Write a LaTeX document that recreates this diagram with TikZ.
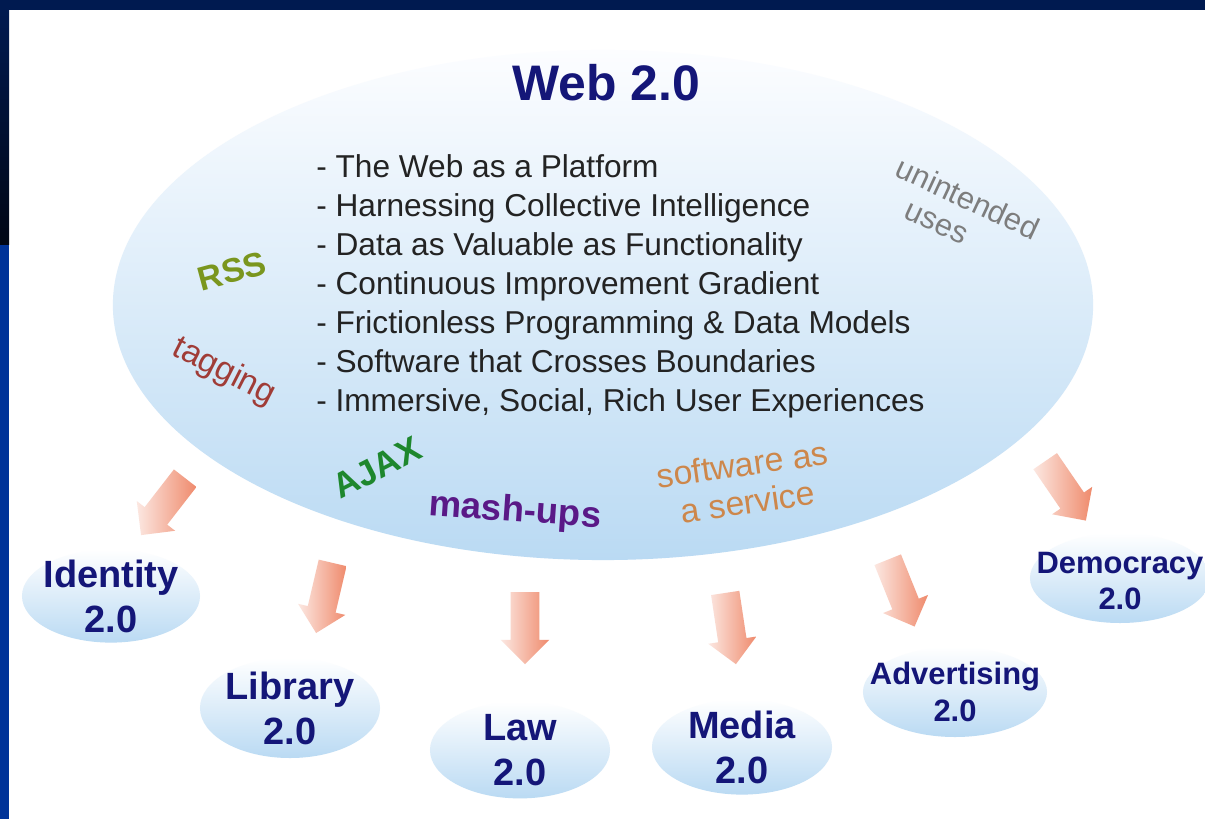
\documentclass[tikz,border=0pt]{standalone}
\usepackage{fontspec}
\setmainfont{Liberation Sans}
\usetikzlibrary{shapes.geometric,shapes.arrows}

\definecolor{navytitle}{RGB}{20,22,120}
\definecolor{framenavy}{RGB}{0,26,80}
\definecolor{frameblack}{RGB}{0,6,20}
\definecolor{frameblue}{RGB}{0,51,153}
\definecolor{cloudtop}{RGB}{252,253,255}
\definecolor{cloudbottom}{RGB}{186,218,243}
\definecolor{arrowpink}{RGB}{239,138,108}
\definecolor{rssgreen}{RGB}{122,150,30}
\definecolor{tagred}{RGB}{160,60,55}
\definecolor{ajaxgreen}{RGB}{30,135,45}
\definecolor{mashpurple}{RGB}{90,25,135}
\definecolor{saasorange}{RGB}{205,135,75}
\definecolor{usesgray}{RGB}{125,125,125}
\definecolor{listgray}{RGB}{35,35,35}

\tikzset{
  bigcloud/.style={ellipse, inner sep=0pt, top color=cloudtop, bottom color=cloudbottom,
    minimum width=24.5cm, minimum height=12.75cm},
  subcloud/.style={ellipse, inner sep=0pt, top color=white, bottom color=cloudbottom,
    minimum width=4.5cm, minimum height=2.4cm},
  subtext/.style={text=navytitle, font=\fontsize{27}{32}\selectfont\bfseries, align=center, inner sep=0pt},
  smalltext/.style={subtext, font=\fontsize{22}{26}\selectfont\bfseries},
  tagword/.style={inner sep=0pt, align=center, font=\fontsize{24}{27}\selectfont},
  blockarrow/.style={single arrow, draw=none, inner xsep=0pt, inner ysep=0.35cm,
    minimum width=0pt, minimum height=1.8cm, single arrow head extend=0.25cm,
    single arrow tip angle=90, left color=arrowpink!20!white, right color=arrowpink,
    midway, sloped, allow upside down}
}

\begin{document}
\begin{tikzpicture}[x=0.025cm,y=-0.025cm]
                \useasboundingbox (0,0) rectangle (1205,819);
                % frame
                \fill [white] (0,0) rectangle (1205,819);
                \fill [framenavy] (0,0) rectangle (1205,10);
                \shade [top color=framenavy, bottom color=frameblack] (0,10) rectangle (9,245);
                \fill [frameblue] (0,245) rectangle (9,819);
                % main cloud
                \node [bigcloud] (web) at (603,305) {};
                \node [text=navytitle, inner sep=0pt, font=\fontsize{35.5}{40}\selectfont\bfseries] (title) at (606,83) {Web 2.0};
                \node [anchor=west, inner sep=0pt, align=left, text=listgray, font=\fontsize{22.5}{27.7}\selectfont] (principles) at (316,286)
                  {- The Web as a Platform\\- Harnessing Collective Intelligence\\- Data as Valuable as Functionality\\- Continuous Improvement Gradient\\- Frictionless Programming \& Data Models\\- Software that Crosses Boundaries\\- Immersive, Social, Rich User Experiences};
                % words in the cloud
                \node [tagword, text=rssgreen, font=\fontsize{24}{27}\selectfont\bfseries, rotate=15] (rss) at (232,271) {RSS};
                \node [tagword, text=tagred, rotate=-27] (tagging) at (224,372) {tagging};
                \node [tagword, text=ajaxgreen, font=\fontsize{25}{28}\selectfont\bfseries, rotate=27] (ajax) at (377,468) {AJAX};
                \node [tagword, text=mashpurple, font=\fontsize{26}{29}\selectfont\bfseries, rotate=-4] (mashups) at (515,512) {mash-ups};
                \node [tagword, text=saasorange, rotate=8] (saas) at (745,483) {software as\\a service};
                \node [tagword, text=usesgray, font=\fontsize{22}{25}\selectfont, rotate=-25] (unintended) at (968,198) {unintended};
                \node [tagword, text=usesgray, font=\fontsize{22}{25}\selectfont, rotate=-25] (uses) at (936,224) {uses};
                % sub clouds
                \node [subcloud, minimum width=4.45cm, minimum height=2.33cm] (identity) at (111,596) {};
                \node [subcloud, minimum height=2.5cm] (library) at (290,708) {};
                \node [subcloud, minimum height=2.42cm] (law) at (520,750) {};
                \node [subcloud, minimum height=2.38cm] (media) at (742,747) {};
                \node [subcloud, minimum width=4.6cm, minimum height=2.25cm] (advertising) at (955,692) {};
                \node [subcloud, minimum height=2.25cm] (democracy) at (1120,578) {};
                \node [subtext] (identitytext) at (identity) {Identity\\2.0};
                \node [subtext] (librarytext) at (library) {Library\\2.0};
                \node [subtext] (lawtext) at (law) {Law\\2.0};
                \node [subtext] (mediatext) at (media) {Media\\2.0};
                \node [smalltext] (advertisingtext) at (advertising) {Advertising\\2.0};
                \node [smalltext] (democracytext) at (1120,581) {Democracy\\2.0};
                % arrows
                \coordinate (idtail) at (190,472);
                \coordinate (idtip) at (145,530);
                \coordinate (libtail) at (334,557);
                \coordinate (libtip) at (318,625);
                \coordinate (lawtail) at (525,585);
                \coordinate (lawtip) at (525,657);
                \coordinate (medtail) at (724,585);
                \coordinate (medtip) at (735,658);
                \coordinate (advtail) at (885,553);
                \coordinate (advtip) at (912,620);
                \coordinate (demtail) at (1043,458);
                \coordinate (demtip) at (1080,512);
                \path (idtail) -- (idtip) node [blockarrow] (idarrow) {};
                \path (libtail) -- (libtip) node [blockarrow] (libarrow) {};
                \path (lawtail) -- (lawtip) node [blockarrow] (lawarrow) {};
                \path (medtail) -- (medtip) node [blockarrow] (medarrow) {};
                \path (advtail) -- (advtip) node [blockarrow] (advarrow) {};
                \path (demtail) -- (demtip) node [blockarrow] (demarrow) {};
\end{tikzpicture}
\end{document}
